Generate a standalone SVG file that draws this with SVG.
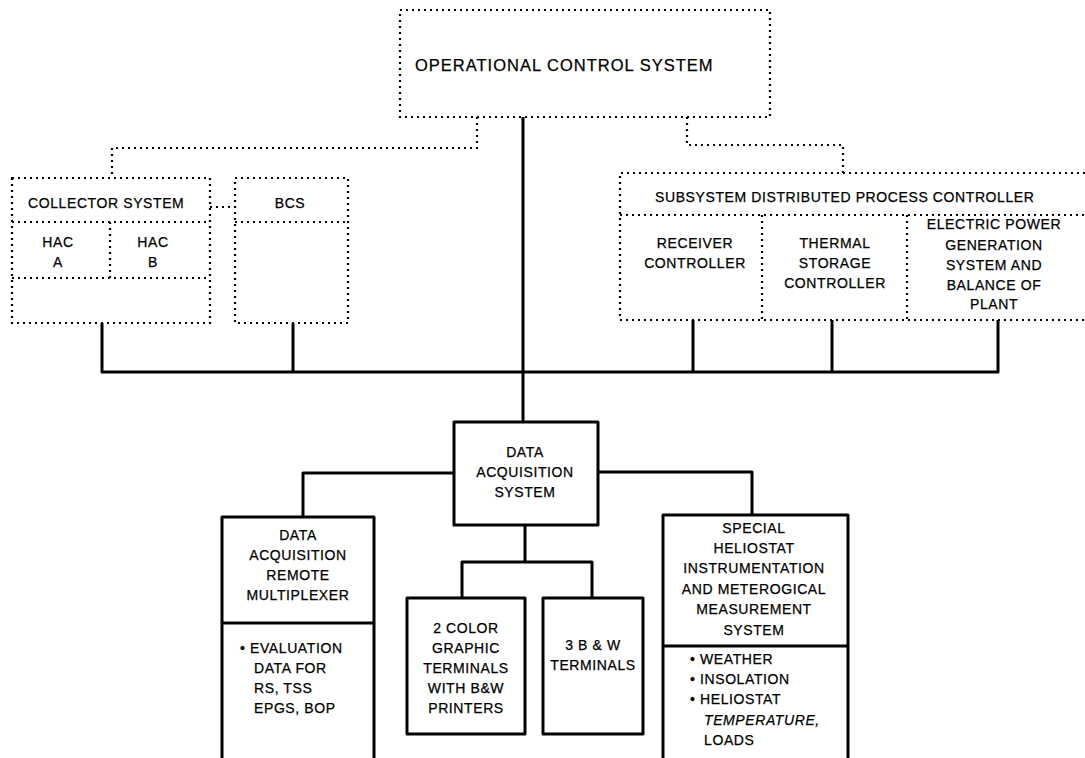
<svg xmlns="http://www.w3.org/2000/svg" width="1085" height="758" viewBox="0 0 1085 758">
<style>
.dot{fill:none;stroke:#000;stroke-width:2.2;stroke-dasharray:2 4}
.sol{fill:none;stroke:#000;stroke-width:3;stroke-linejoin:round}
text{font-family:"Liberation Sans",Arial,sans-serif;font-size:14px;fill:#000;letter-spacing:0.6px;stroke:#000;stroke-width:0.25}
.c{text-anchor:middle}
.big{font-size:16.5px;letter-spacing:1px}
</style>
<rect width="1085" height="758" fill="#fff"/>
<g id="connectors">
<path class="dot" d="M477,117 V148 H112 V178"/>
<path class="dot" d="M687,117 V145 H843 V173"/>
<path class="dot" d="M210,207 H235"/>
<path class="sol" d="M523,117 V422"/>
<path class="sol" d="M102,323 V372 H998 V320"/>
<path class="sol" d="M293,323 V372"/>
<path class="sol" d="M693,320 V372"/>
<path class="sol" d="M832,320 V372"/>
<path class="sol" d="M454,473 H303 V517"/>
<path class="sol" d="M598,472 H752 V515"/>
<path class="sol" d="M525,525 V562"/>
<path class="sol" d="M462,598 V562 H592 V598"/>
</g>
<g id="ocs">
<rect class="dot" x="400" y="10" width="370" height="107"/>
<text class="big" x="415" y="71">OPERATIONAL CONTROL SYSTEM</text>
</g>
<g id="collector">
<rect class="dot" x="12" y="178" width="198" height="145"/>
<path class="dot" d="M12,222 H210 M12,278 H210 M110,222 V278"/>
<text x="28" y="208">COLLECTOR SYSTEM</text>
<text class="c" x="58" y="247">HAC</text>
<text class="c" x="58" y="267">A</text>
<text class="c" x="153" y="247">HAC</text>
<text class="c" x="153" y="267">B</text>
</g>
<g id="bcs">
<rect class="dot" x="235" y="178" width="113" height="145"/>
<path class="dot" d="M235,222 H348"/>
<text class="c" x="290" y="208">BCS</text>
</g>
<g id="sdpc">
<path class="dot" d="M1085,173 H620 V320 H1085"/>
<path class="dot" d="M620,215 H1085 M762,215 V320 M907,215 V320"/>
<text x="655" y="202">SUBSYSTEM DISTRIBUTED PROCESS CONTROLLER</text>
<text class="c" x="695" y="248">RECEIVER</text>
<text class="c" x="695" y="268">CONTROLLER</text>
<text class="c" x="835" y="248">THERMAL</text>
<text class="c" x="835" y="268">STORAGE</text>
<text class="c" x="835" y="288">CONTROLLER</text>
<text class="c" x="994" y="229">ELECTRIC POWER</text>
<text class="c" x="994" y="250">GENERATION</text>
<text class="c" x="994" y="270">SYSTEM AND</text>
<text class="c" x="994" y="290">BALANCE OF</text>
<text class="c" x="994" y="309">PLANT</text>
</g>
<g id="das">
<rect class="sol" x="454" y="422" width="144" height="103"/>
<text class="c" x="525" y="457">DATA</text>
<text class="c" x="525" y="477">ACQUISITION</text>
<text class="c" x="525" y="497">SYSTEM</text>
</g>
<g id="darm">
<path class="sol" d="M222,760 V517 H374 V760 M222,623 H374"/>
<text class="c" x="298" y="540">DATA</text>
<text class="c" x="298" y="560">ACQUISITION</text>
<text class="c" x="298" y="580">REMOTE</text>
<text class="c" x="298" y="600">MULTIPLEXER</text>
<text x="240" y="653">• EVALUATION</text>
<text x="254" y="673">DATA FOR</text>
<text x="254" y="693">RS, TSS</text>
<text x="254" y="713">EPGS, BOP</text>
</g>
<g id="color">
<rect class="sol" x="407" y="598" width="118" height="136"/>
<text class="c" x="466" y="633">2 COLOR</text>
<text class="c" x="466" y="653">GRAPHIC</text>
<text class="c" x="466" y="673">TERMINALS</text>
<text class="c" x="466" y="693">WITH B&amp;W</text>
<text class="c" x="466" y="713">PRINTERS</text>
</g>
<g id="bw">
<rect class="sol" x="543" y="598" width="100" height="136"/>
<text class="c" x="593" y="650">3 B &amp; W</text>
<text class="c" x="593" y="670">TERMINALS</text>
</g>
<g id="shim">
<path class="sol" d="M663,760 V515 H848 V760 M663,646 H848"/>
<text class="c" x="754" y="533">SPECIAL</text>
<text class="c" x="754" y="553">HELIOSTAT</text>
<text class="c" x="754" y="573">INSTRUMENTATION</text>
<text class="c" x="754" y="594">AND METEROGICAL</text>
<text class="c" x="754" y="614">MEASUREMENT</text>
<text class="c" x="754" y="635">SYSTEM</text>
<text x="690" y="664">• WEATHER</text>
<text x="690" y="684">• INSOLATION</text>
<text x="690" y="704">• HELIOSTAT</text>
<text x="704" y="725" font-style="italic">TEMPERATURE,</text>
<text x="704" y="745">LOADS</text>
</g>
</svg>
